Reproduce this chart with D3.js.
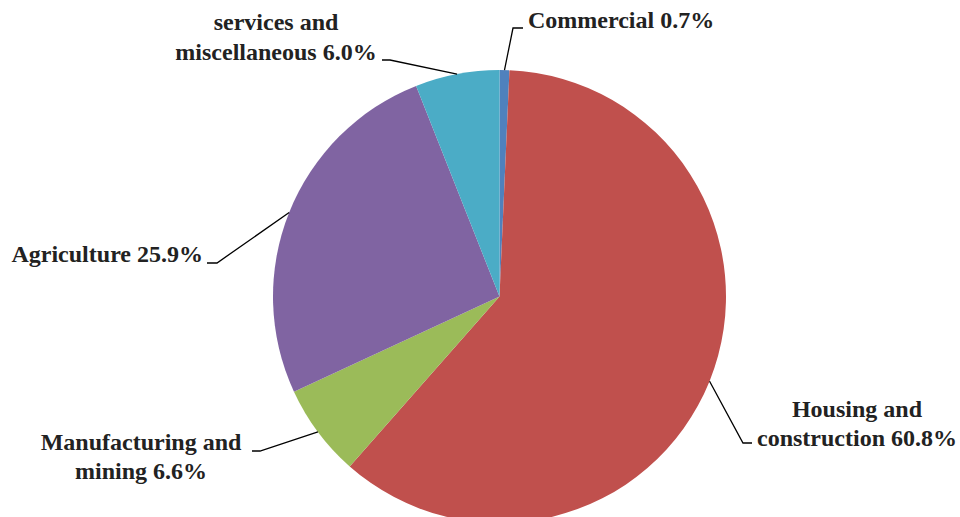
<!DOCTYPE html>
<html><head><meta charset="utf-8">
<script src="https://cdn.jsdelivr.net/npm/d3@7"></script>
<style>body{margin:0;background:#fff}svg{display:block}</style>
</head><body>
<svg id="c" width="960" height="517"></svg>
<script>
const categories = ["Commercial", "Housing and construction", "Manufacturing and mining", "Agriculture", "services and miscellaneous"];
const values = [0.7, 60.8, 6.6, 25.9, 6.0];
const labelLines = [["Commercial 0.7%"], ["Housing and", "construction 60.8%"], ["Manufacturing and", "mining 6.6%"], ["Agriculture 25.9%"], ["services and", "miscellaneous 6.0%"]];
const colors = ["#4F81BD", "#C0504D", "#9BBB59", "#8064A2", "#4BACC6"];

// layout of labels: text anchor point, elbow point, and end point
const labelLayout = [
  {x: 528, y: 28, anchor: "start", lineH: 29, elbow: [513, 28], end: [523, 28]},
  {x: 857, y: 417, anchor: "middle", lineH: 29, elbow: [743, 443], end: [752, 443]},
  {x: 141, y: 450, anchor: "middle", lineH: 29, elbow: [260, 451], end: [252, 451]},
  {x: 203, y: 262, anchor: "end", lineH: 29, elbow: [217, 263], end: [207, 263]},
  {x: 276, y: 30, anchor: "middle", lineH: 30, elbow: [390, 60], end: [382, 60]}
];

const cx = 499.5, cy = 296.5, r = 226.5;
const svg = d3.select("#c");
const g = svg.append("g").attr("transform", `translate(${cx},${cy})`);
const data = categories.map((c, i) => ({name: c, value: values[i], i}));
const pie = d3.pie().value(d => d.value).sort(null);
const arcs = pie(data);
const arc = d3.arc().innerRadius(0).outerRadius(r);

g.selectAll("path.slice").data(arcs).join("path")
  .attr("class", "slice")
  .attr("d", arc)
  .attr("fill", d => colors[d.data.i]);

// leader lines
arcs.forEach(a => {
  const L = labelLayout[a.data.i];
  const mid = (a.startAngle + a.endAngle) / 2;
  const p0 = [cx + r * Math.sin(mid), cy - r * Math.cos(mid)];
  svg.append("path")
    .attr("d", d3.line()([p0, L.elbow, L.end]))
    .attr("fill", "none").attr("stroke", "#000").attr("stroke-width", 1.3);
  const t = svg.append("text")
    .attr("x", L.x).attr("y", L.y)
    .attr("text-anchor", L.anchor)
    .attr("font-family", "'Liberation Serif', 'Times New Roman', serif")
    .attr("font-weight", "bold").attr("font-size", 24).attr("fill", "#222");
  labelLines[a.data.i].forEach((ln, k) => {
    t.append("tspan").attr("x", L.x).attr("y", L.y + k * L.lineH).text(ln);
  });
});
</script>
</body></html>
